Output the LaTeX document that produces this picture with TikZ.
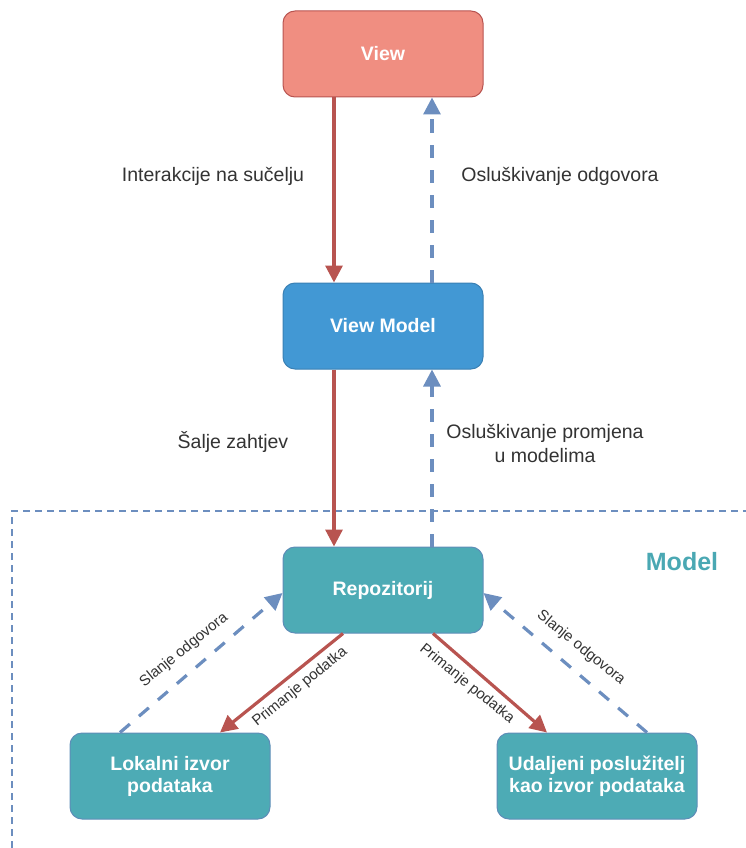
\documentclass[tikz,border=0pt]{standalone}
\usepackage{fontspec}
\setmainfont{Liberation Sans}
\usetikzlibrary{arrows.meta,calc}
\definecolor{viewfill}{HTML}{F08E81}
\definecolor{viewline}{HTML}{B85450}
\definecolor{vmfill}{HTML}{4298D4}
\definecolor{vmline}{HTML}{3A80B4}
\definecolor{repofill}{HTML}{4DABB5}
\definecolor{repoline}{HTML}{5E8DB8}
\definecolor{redline}{HTML}{B85450}
\definecolor{blueline}{HTML}{6C8EBF}
\definecolor{labelgray}{HTML}{333333}
\definecolor{modelteal}{HTML}{4AA8B3}
\tikzset{
  box/.style={rounded corners=12pt, minimum width=200pt, minimum height=86pt, line width=1pt,
    text=white, font=\bfseries\fontsize{19.5}{22}\selectfont, align=center, inner sep=0pt},
  viewbox/.style={box, fill=viewfill, draw=viewline},
  vmbox/.style={box, fill=vmfill, draw=vmline},
  repobox/.style={box, fill=repofill, draw=repoline},
  req/.style={draw=redline, line width=3.2pt, -{Triangle[length=17pt,width=17pt]}},
  resp/.style={draw=blueline, line width=3.2pt, dash pattern=on 13pt off 12pt, -{Triangle[length=17pt,width=17pt]}},
  lbl/.style={text=labelgray, font=\fontsize{19.5}{24}\selectfont, inner sep=0pt},
  dlbl/.style={text=labelgray, font=\fontsize{15}{18}\selectfont, inner sep=0pt},
}
\begin{document}
\begin{tikzpicture}[x=1pt,y=-1pt]
\useasboundingbox (0,0) rectangle (746,848);
% Model frame
\draw[blueline, line width=2pt, dash pattern=on 7pt off 5pt] (12,860) -- (12,511) -- (760,511);
\node[text=modelteal, font=\bfseries\fontsize{25}{30}\selectfont, inner sep=0pt] (modellbl) at (682,562) {Model};

\node[viewbox] (view) at (383,54) {View};
\node[vmbox] (vm) at (383,326) {View Model};
\node[repobox] (repo) at (383,590) {Repozitorij};
\node[repobox] (local) at (170,776) {Lokalni izvor\\podataka};
\node[repobox] (remote) at (597,776) {Udaljeni poslužitelj\\kao izvor podataka};

% vertical connectors
\draw[req] ($(view.south)+(-49,0)$) -- ($(vm.north)+(-49,0)$);
\draw[resp] ($(vm.north)+(49,0)$) -- ($(view.south)+(49,0)$);
\draw[req] ($(vm.south)+(-49,0)$) -- ($(repo.north)+(-49,0)$);
\draw[resp] ($(repo.north)+(49,0)$) -- ($(vm.south)+(49,0)$);

% diagonal connectors
\draw[req] ($(repo.south)+(-40,0)$) -- ($(local.north)+(50,0)$);
\draw[resp] ($(local.north)+(-50,0)$) -- ($(repo.west)+(0,3)$);
\draw[req] ($(repo.south)+(50,0)$) -- ($(remote.north)+(-50,0)$);
\draw[resp] ($(remote.north)+(50,0)$) -- ($(repo.east)+(0,3)$);

% labels
\node[lbl] (l1) at (213,176) {Interakcije na sučelju};
\node[lbl] (l2) at (560,176) {Osluškivanje odgovora};
\node[lbl] (l3) at (233,442) {Šalje zahtjev};
\node[lbl, align=center] (l4) at (545,443) {Osluškivanje promjena\\u modelima};
\node[dlbl, rotate=39] (l5) at (184,650) {Slanje odgovora};
\node[dlbl, rotate=39] (l6) at (300,687) {Primanje podatka};
\node[dlbl, rotate=-39] (l7) at (467,684) {Primanje podatka};
\node[dlbl, rotate=-39] (l8) at (581,648) {Slanje odgovora};
\end{tikzpicture}
\end{document}
